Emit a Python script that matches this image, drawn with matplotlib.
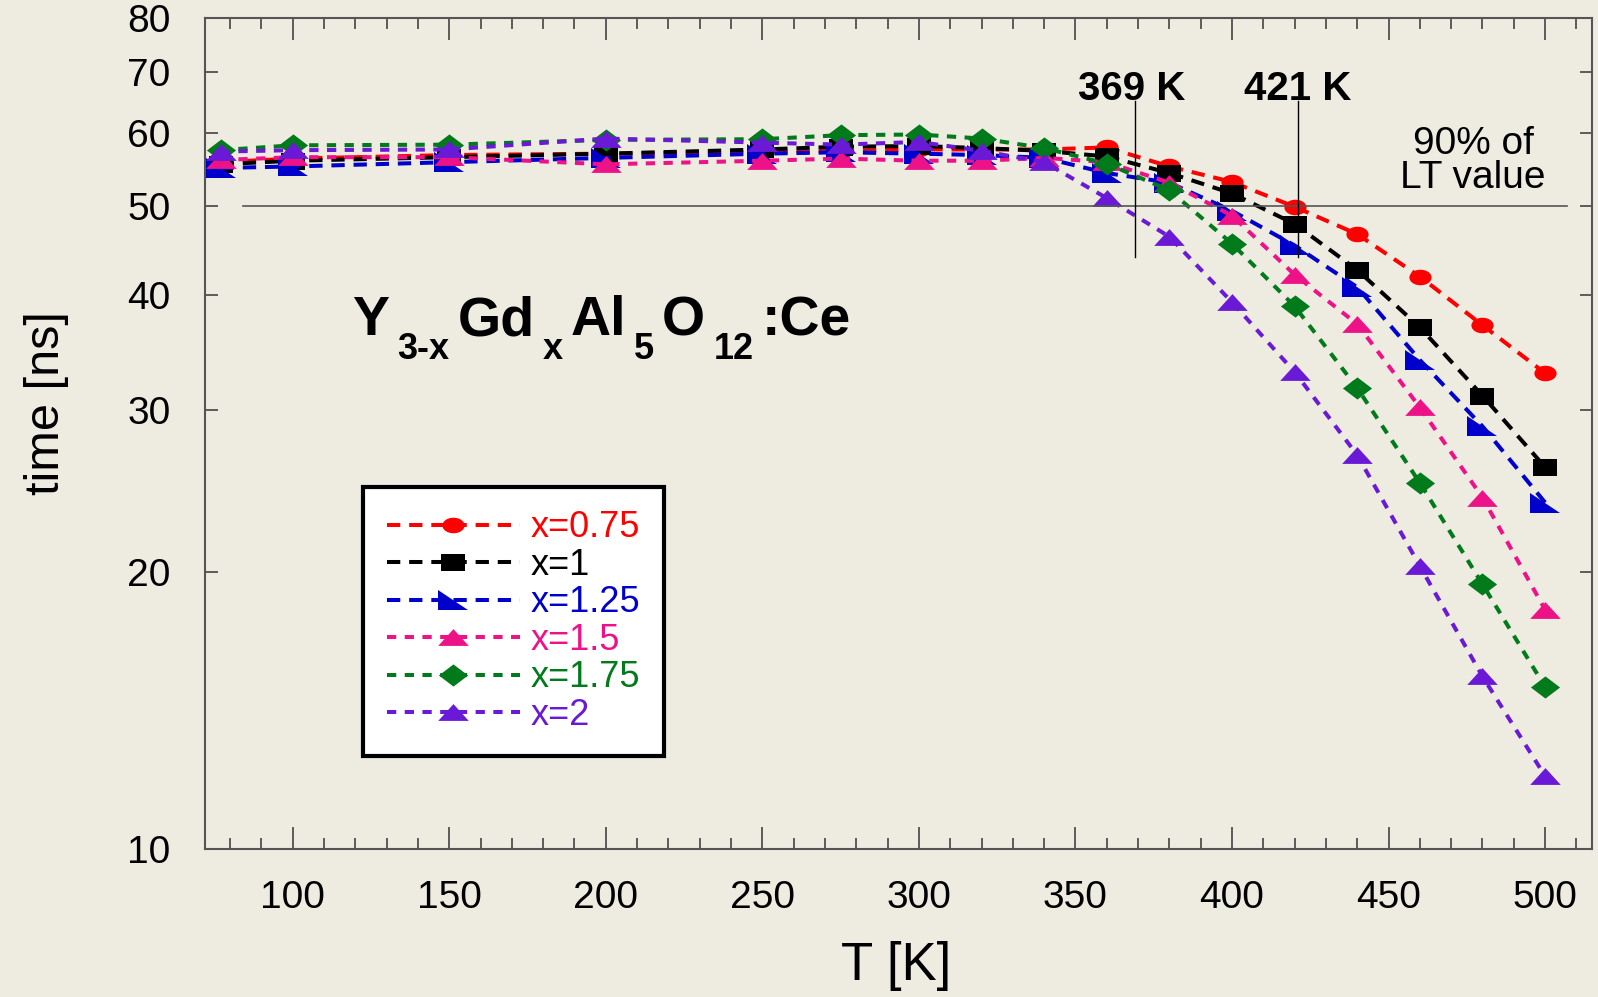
import numpy as np
import matplotlib
matplotlib.use("Agg")
import matplotlib.pyplot as plt
from matplotlib.path import Path
from matplotlib.transforms import offset_copy
from matplotlib.ticker import FixedLocator, MultipleLocator, NullLocator, NullFormatter

plt.rcParams['font.family'] = ['Liberation Sans', 'DejaVu Sans']

# temperatures [K]
T = [77, 100, 150, 200, 250, 275, 300, 320, 340, 360, 380, 400, 420, 440, 460, 480, 500]

# decay times [ns] for Y(3-x)Gd(x)Al5O12:Ce
tau_075 = [55.8, 56.3, 56.8, 57.0, 57.2, 57.4, 57.6, 57.6, 57.6, 57.9, 55.2, 53.1, 49.9, 46.6, 41.9, 37.1, 32.9]
tau_100 = [55.5, 56.0, 56.5, 57.0, 57.6, 58.0, 58.1, 57.8, 57.4, 56.6, 54.3, 51.6, 47.8, 42.6, 36.9, 31.1, 26.0]
tau_125 = [55.0, 55.2, 55.8, 56.4, 57.0, 57.2, 57.0, 56.8, 56.4, 54.3, 53.0, 49.4, 45.3, 40.8, 34.0, 28.8, 23.8]
tau_150 = [56.1, 56.5, 56.5, 55.5, 56.0, 56.3, 56.0, 56.0, 56.4, 55.8, 53.0, 48.8, 42.1, 37.2, 30.2, 24.1, 18.2]
tau_175 = [57.5, 58.2, 58.3, 59.0, 59.1, 59.7, 59.8, 59.2, 57.8, 55.6, 52.0, 45.5, 38.9, 31.7, 25.0, 19.4, 15.0]
tau_200 = [57.3, 57.5, 57.6, 59.2, 58.6, 58.3, 58.7, 57.4, 55.8, 51.0, 46.3, 39.3, 33.0, 26.8, 20.3, 15.4, 12.0]

labels = ['x=0.75', 'x=1', 'x=1.25', 'x=1.5', 'x=1.75', 'x=2']
colors = ['#FF0000', '#000000', '#0000CC', '#EE1289', '#007A1A', '#6A1AD6']
series = [tau_075, tau_100, tau_125, tau_150, tau_175, tau_200]

# formula pieces: (text, is_subscript)
formula = [('Y', False), ('3-x', True), ('Gd', False), ('x', True), ('Al', False),
           ('5', True), ('O', False), ('12', True), (':Ce', False)]


def poly_marker(pts):
    pts = list(pts) + [pts[0]]
    return Path(np.array(pts, dtype=float), closed=True)


ang = np.linspace(0, 2 * np.pi, 40, endpoint=False)
circle_m = poly_marker(list(zip(np.cos(ang), 0.7 * np.sin(ang))))
square_m = poly_marker([(-1, -0.72), (1, -0.72), (1, 0.72), (-1, 0.72)])
rtri_m = poly_marker([(-1, 0.7), (-1, -0.7), (1, -0.7)])
tri_m = poly_marker([(-1, -0.55), (1, -0.55), (0, 0.55)])
diam_m = poly_marker([(-1, 0), (0, 0.76), (1, 0), (0, -0.76)])

markers = [circle_m, square_m, rtri_m, tri_m, diam_m, tri_m]
msizes = [16, 17, 21, 22, 21, 22]
dashes = [(3.3, 2.2), (3.3, 2.2), (3.3, 2.2), (2.3, 2.1), (2.3, 2.1), (2.3, 2.1)]

bg = '#EEEBE0'
fig = plt.figure(figsize=(15.98, 9.97), dpi=100, facecolor=bg)
ax = fig.add_axes([0.1283, 0.1485, 0.868, 0.8332], facecolor=bg)

for y, lab, c, m, ms, d in zip(series, labels, colors, markers, msizes, dashes):
    ax.plot(T, y, color=c, lw=2.9, dashes=d, marker=m, markersize=ms,
            markeredgewidth=0, label=lab)

ax.set_yscale('log')
ax.set_xlim(72, 515)
ax.set_ylim(10, 80)

ax.yaxis.set_major_locator(FixedLocator([10, 20, 30, 40, 50, 60, 70, 80]))
ax.yaxis.set_major_formatter(plt.FixedFormatter(['10', '20', '30', '40', '50', '60', '70', '80']))
ax.yaxis.set_minor_locator(NullLocator())
ax.yaxis.set_minor_formatter(NullFormatter())
ax.xaxis.set_major_locator(MultipleLocator(50))
ax.xaxis.set_minor_locator(MultipleLocator(10))

ax.tick_params(axis='both', which='both', direction='in', top=True, right=True,
               color='#444444')
ax.tick_params(axis='x', which='major', length=16, width=1.2, labelsize=28, pad=22)
ax.tick_params(axis='x', which='minor', length=8, width=1.2)
ax.tick_params(axis='y', which='major', length=9, width=1.2, labelsize=28, pad=25)
for s in ax.spines.values():
    s.set_color('#555555')
    s.set_linewidth(1.5)

fig.text(0.561, 0.031, 'T [K]', fontsize=38, ha='center', va='center')
fig.text(0.0288, 0.596, 'time [ns]', fontsize=35, rotation=90, ha='center', va='center')

# 90 % of low temperature value and the T50 markers
ax.plot([84, 507], [50, 50], color='#555555', lw=1.2)
ax.plot([369, 369], [44, 65], color='black', lw=1.0)
ax.plot([421, 421], [44, 65], color='black', lw=1.0)
ax.text(368, 67, '369 K', fontsize=29, fontweight='bold', ha='center', va='center')
ax.text(421, 67, '421 K', fontsize=29, fontweight='bold', ha='center', va='center')
ax.text(477, 56, '90% of\nLT value', fontsize=28, ha='center', va='center',
        linespacing=0.92)

# compound label, built piece by piece so the subscripts sit low
fig.canvas.draw()
renderer = fig.canvas.get_renderer()
xoff = 0.0
for s, sub in formula:
    tr = offset_copy(ax.transData, fig=fig, x=xoff, y=-24 if sub else 0, units='dots')
    t = ax.text(119, 36.2, s, fontsize=26 if sub else 40, fontweight='bold',
                ha='left', va='baseline', transform=tr)
    xoff += t.get_window_extent(renderer).width + 8

leg = ax.legend(loc='upper left', bbox_to_anchor=(0.114, 0.436), borderaxespad=0,
                fontsize=26, labelcolor='linecolor', handlelength=3.7,
                handletextpad=0.3, labelspacing=0.07, borderpad=0.65,
                fancybox=False, framealpha=1, facecolor='white', edgecolor='black')
leg.get_frame().set_linewidth(3)

fig.savefig('out.png', dpi=100, facecolor=bg)
